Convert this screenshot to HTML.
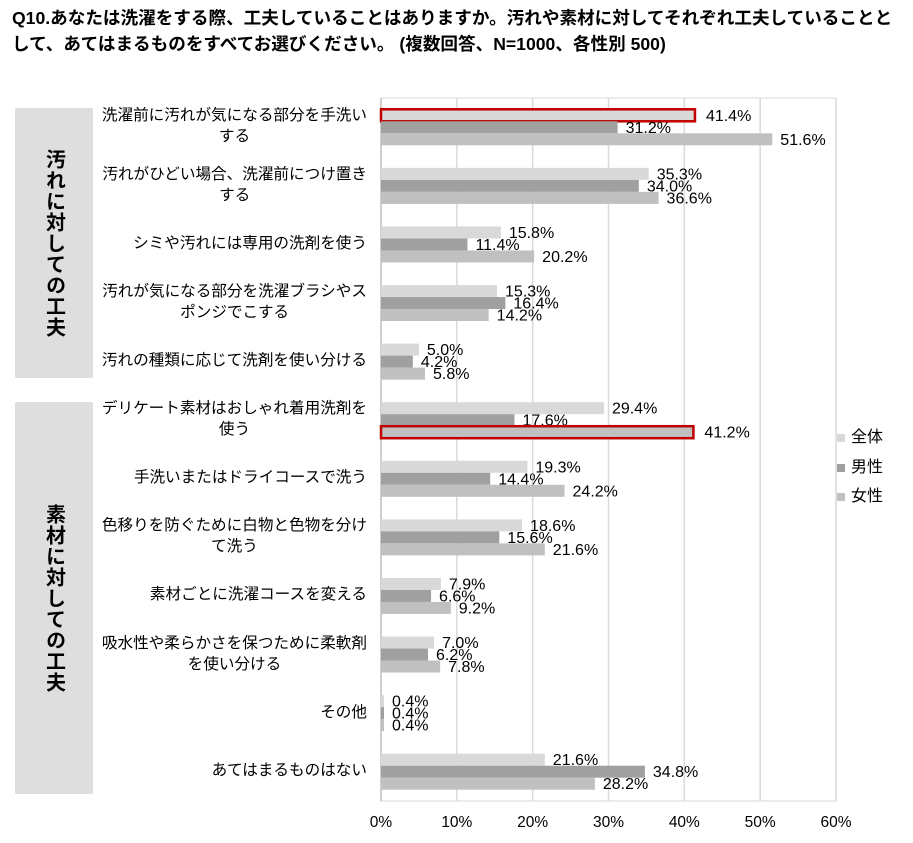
<!DOCTYPE html>
<html><head><meta charset="utf-8"><style>
body{margin:0;background:#fff;font-family:"Liberation Sans","Noto Sans CJK JP",sans-serif;}
#wrap{position:relative;width:913px;height:843px;overflow:hidden;}
.title{position:absolute;left:12px;top:5px;font-size:17.6px;font-weight:bold;line-height:26px;color:#000;white-space:nowrap;}
.grp{position:absolute;left:15px;width:78px;background:#dedede;border-radius:2px;display:flex;align-items:center;justify-content:center;}
.grp span{writing-mode:vertical-rl;font-weight:bold;font-size:20px;letter-spacing:1px;}
.cat{position:absolute;left:60px;width:307px;text-align:right;font-size:15.6px;line-height:21px;white-space:nowrap;}
.cat span{display:inline-block;text-align:center;}
.lg{position:absolute;font-size:16px;}
</style></head><body><div id="wrap">
<div class="title">Q10.あなたは洗濯をする際、工夫していることはありますか。汚れや素材に対してそれぞれ工夫していることと<br>して、あてはまるものをすべてお選びください。 (複数回答、N=1000、各性別 500)</div>
<div class="grp" style="top:108px;height:270px"><span>汚れに対しての工夫</span></div>
<div class="grp" style="top:402px;height:392px"><span>素材に対しての工夫</span></div>
<div id="cats"></div>
<svg id="plot" width="913" height="843" style="position:absolute;left:0;top:0"></svg>
<div class="lg" style="left:837px;top:423px"><i style="display:inline-block;width:8px;height:8px;background:#d9d9d9;margin-right:6px"></i>全体</div>
<div class="lg" style="left:837px;top:453px"><i style="display:inline-block;width:8px;height:8px;background:#a0a0a0;margin-right:6px"></i>男性</div>
<div class="lg" style="left:837px;top:482px"><i style="display:inline-block;width:8px;height:8px;background:#c0c0c0;margin-right:6px"></i>女性</div>
</div>
<script>
const categories=["洗濯前に汚れが気になる部分を手洗い<br>する","汚れがひどい場合、洗濯前につけ置き<br>する","シミや汚れには専用の洗剤を使う","汚れが気になる部分を洗濯ブラシやス<br>ポンジでこする","汚れの種類に応じて洗剤を使い分ける","デリケート素材はおしゃれ着用洗剤を<br>使う","手洗いまたはドライコースで洗う","色移りを防ぐために白物と色物を分け<br>て洗う","素材ごとに洗濯コースを変える","吸水性や柔らかさを保つために柔軟剤<br>を使い分ける","その他","あてはまるものはない"];
const allVals=[41.4,35.3,15.8,15.3,5.0,29.4,19.3,18.6,7.9,7.0,0.4,21.6];
const maleVals=[31.2,34.0,11.4,16.4,4.2,17.6,14.4,15.6,6.6,6.2,0.4,34.8];
const femaleVals=[51.6,36.6,20.2,14.2,5.8,41.2,24.2,21.6,9.2,7.8,0.4,28.2];
const ticks=[0,10,20,30,40,50,60];
const highlights=[[0,0],[5,2]];
const X0=381,X1=836,Y0=98,Y1=801;
const x=v=>X0+(v/60)*(X1-X0);
const svg=document.getElementById('plot');const NS='http://www.w3.org/2000/svg';
function mk(t,a){const e=document.createElementNS(NS,t);for(const k in a)e.setAttribute(k,a[k]);svg.appendChild(e);return e;}
const bg=mk('rect',{x:X0,y:Y0,width:X1-X0,height:Y1-Y0,fill:'#fff',stroke:'#d9d9d9','stroke-width':1});


ticks.forEach(t=>{
 const l=mk('line',{x1:x(t),x2:x(t),y1:Y0,y2:Y1,stroke:t===0?'#bfbfbf':'#d9d9d9','stroke-width':1.5});
 
 
 const tx=mk('text',{x:x(t),y:827,'text-anchor':'middle','font-size':15.5,'font-family':'Liberation Sans, sans-serif'});
 tx.textContent=t+'%';
 
 
});
const series=[[allVals,'#d9d9d9'],[maleVals,'#a0a0a0'],[femaleVals,'#c0c0c0']];
const catsDiv=document.getElementById('cats');
const bh=(Y1-Y0)/categories.length;
categories.forEach((c,i)=>{
 const top=Y0+i*bh;
 const start=top+(bh-36)/2;
 const d=document.createElement('div');
 d.className='cat';
 
 
 d.innerHTML='<span>'+c+'</span>';
 catsDiv.appendChild(d);
 const lines=c.split('<br>').length;
 d.style.top=(top+bh/2-lines*10.5-1)+'px';
 series.forEach((s,j)=>{
  const v=s[0][i];const y=start+j*12;
  const hl=highlights.some(h=>h[0]===i&&h[1]===j);
  const r=mk('rect',{x:X0,y:y,width:x(v)-X0,height:12,fill:s[1]});
  if(hl){r.setAttribute('stroke','#c00000');r.setAttribute('stroke-width','2.5');}
  
  
  const t=mk('text',{x:x(v)+(hl?11:8),y:y+11.5,'font-size':16,'font-family':'Liberation Sans, sans-serif'});
  t.textContent=v.toFixed(1)+'%';
  
  
 });
});
</script></body></html>
